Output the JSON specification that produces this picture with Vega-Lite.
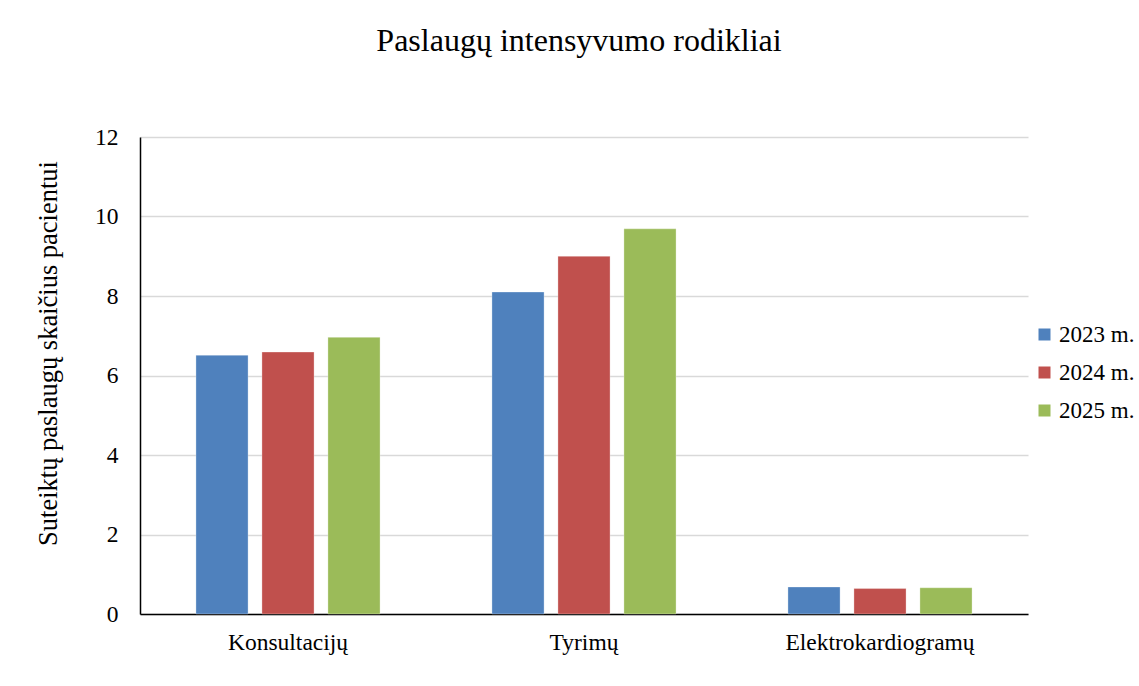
{
  "$schema": "https://vega.github.io/schema/vega-lite/v6.json",
  "width": 888,
  "height": 477,
  "autosize": {"type": "none"},
  "padding": {"left": 140, "top": 137, "right": 111, "bottom": 72},
  "background": "white",
  "title": {
    "text": "Paslaugų intensyvumo rodikliai",
    "font": "Liberation Serif",
    "fontSize": 32,
    "fontWeight": "normal",
    "color": "black",
    "anchor": "middle",
    "dx": -5,
    "baseline": "alphabetic",
    "offset": 42
  },
  "data": {
    "values": [
      {"kategorija": "Konsultacijų", "metai": "2023 m.", "reiksme": 6.51},
      {"kategorija": "Konsultacijų", "metai": "2024 m.", "reiksme": 6.59},
      {"kategorija": "Konsultacijų", "metai": "2025 m.", "reiksme": 6.96},
      {"kategorija": "Tyrimų", "metai": "2023 m.", "reiksme": 8.1},
      {"kategorija": "Tyrimų", "metai": "2024 m.", "reiksme": 9.0},
      {"kategorija": "Tyrimų", "metai": "2025 m.", "reiksme": 9.69},
      {"kategorija": "Elektrokardiogramų", "metai": "2023 m.", "reiksme": 0.68},
      {"kategorija": "Elektrokardiogramų", "metai": "2024 m.", "reiksme": 0.64},
      {"kategorija": "Elektrokardiogramų", "metai": "2025 m.", "reiksme": 0.66}
    ]
  },
  "mark": {"type": "bar", "stroke": "white", "strokeWidth": 0.6, "strokeOpacity": 0.5},
  "encoding": {
    "x": {
      "field": "kategorija",
      "type": "nominal",
      "sort": ["Konsultacijų", "Tyrimų", "Elektrokardiogramų"],
      "scale": {"paddingInner": 0.378, "paddingOuter": 0.189},
      "axis": {
        "title": null,
        "labelAngle": 0,
        "labelFont": "Liberation Serif",
        "labelFontSize": 23.5,
        "labelColor": "black",
        "labelPadding": 16,
        "labelLimit": 400,
        "ticks": false,
        "domainColor": "black",
        "domainWidth": 1.5,
        "grid": false
      }
    },
    "xOffset": {
      "field": "metai",
      "type": "nominal",
      "scale": {"paddingInner": 0.21, "paddingOuter": 0}
    },
    "y": {
      "field": "reiksme",
      "type": "quantitative",
      "scale": {"domain": [0, 12], "nice": false},
      "axis": {
        "values": [0, 2, 4, 6, 8, 10, 12],
        "title": "Suteiktų paslaugų skaičius pacientui",
        "titleFont": "Liberation Serif",
        "titleFontSize": 26.5,
        "titleFontWeight": "normal",
        "titleColor": "black",
        "titleAngle": -90,
        "titleAlign": "center",
        "titleBaseline": "middle",
        "titleX": -92,
        "titleY": 216,
        "labelFont": "Liberation Serif",
        "labelFontSize": 23.5,
        "labelColor": "black",
        "labelPadding": 22,
        "ticks": false,
        "domainColor": "black",
        "domainWidth": 1.5,
        "gridColor": "#d9d9d9",
        "gridWidth": 1.5
      }
    },
    "color": {
      "field": "metai",
      "type": "nominal",
      "scale": {"domain": ["2023 m.", "2024 m.", "2025 m."], "range": ["#4F81BD", "#C0504D", "#9BBB59"]},
      "legend": {
        "title": null,
        "orient": "none",
        "legendX": 893,
        "legendY": 186,
        "symbolType": "square",
        "symbolSize": 144,
        "symbolStrokeWidth": 0,
        "labelFont": "Liberation Serif",
        "labelFontSize": 23,
        "labelColor": "black",
        "labelOffset": 3,
        "labelLimit": 300,
        "rowPadding": 14
      }
    }
  },
  "config": {
    "view": {"stroke": null}
  }
}
